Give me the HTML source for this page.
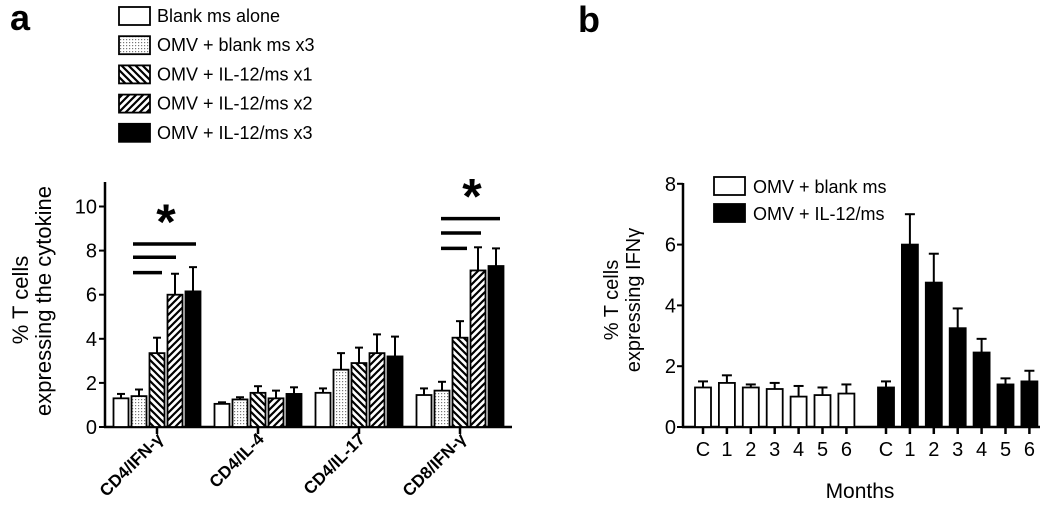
<!DOCTYPE html>
<html><head><meta charset="utf-8"><style>
html,body{margin:0;padding:0;background:#fff;}
svg{display:block;font-family:"Liberation Sans",Arial,sans-serif;}
</style></head><body>
<svg id="c" width="1050" height="529" viewBox="0 0 1050 529" xmlns="http://www.w3.org/2000/svg">
<defs>
<pattern id="dots" width="3" height="3" patternUnits="userSpaceOnUse"><rect width="3" height="3" fill="#fff"/><rect width="1.2" height="1.2" fill="#777"/></pattern>
<pattern id="back" width="7" height="7" patternUnits="userSpaceOnUse"><rect width="7" height="7" fill="#fff"/><path d="M-2,-2 L9,9 M-2,5 L2,9 M5,-2 L9,2" stroke="#000" stroke-width="2.2"/></pattern>
<pattern id="fwd" width="7" height="7" patternUnits="userSpaceOnUse"><rect width="7" height="7" fill="#fff"/><path d="M-2,9 L9,-2 M-2,2 L2,-2 M5,9 L9,5" stroke="#000" stroke-width="2.2"/></pattern>
</defs>
<text x="10" y="30" font-size="36" font-weight="bold">a</text>
<text x="578" y="32" font-size="36" font-weight="bold">b</text>
<g id="ga"></g><g id="gb"></g>
</svg>
<script>
const NS='http://www.w3.org/2000/svg';
function mk(p,t,a,txt){const e=document.createElementNS(NS,t);for(const k in a)e.setAttribute(k,a[k]);if(txt!==undefined)e.textContent=txt;p.appendChild(e);return e;}

// Panel a data
const aCategories=['CD4/IFN-γ','CD4/IL-4','CD4/IL-17','CD8/IFN-γ'];
const aSeries=['Blank ms alone','OMV + blank ms x3','OMV + IL-12/ms x1','OMV + IL-12/ms x2','OMV + IL-12/ms  x3'];
const aValues=[[1.3,1.4,3.35,6.0,6.15],[1.05,1.25,1.55,1.3,1.5],[1.55,2.6,2.9,3.35,3.2],[1.45,1.65,4.05,7.1,7.3]];
const aErrors=[[1.5,1.7,4.05,6.95,7.25],[1.12,1.35,1.85,1.65,1.8],[1.75,3.35,3.6,4.2,4.1],[1.75,2.05,4.8,8.15,8.1]];
const aTicks=[0,2,4,6,8,10];
const aSig=[[7.0,7.7,8.3],[8.1,8.8,9.45]];
// Panel b data
const bCategories=['C','1','2','3','4','5','6'];
const bSeries=['OMV + blank ms','OMV + IL-12/ms'];
const bBlank=[1.3,1.45,1.3,1.25,1.0,1.05,1.1];
const bBlankErr=[1.5,1.7,1.4,1.45,1.35,1.3,1.4];
const bIL12=[1.3,6.0,4.75,3.25,2.45,1.4,1.5];
const bIL12Err=[1.5,7.0,5.7,3.9,2.9,1.6,1.85];
const bTicks=[0,2,4,6,8];

const fills=['#fff','url(#dots)','url(#back)','url(#fwd)','#000'];
const ga=document.getElementById('ga'), gb=document.getElementById('gb');

// ---- Panel a ----
const ay=v=>427-v*22.05;
const ax=i=>157+i*101;
const bw=15, bs=18;
mk(ga,'line',{x1:105,y1:427,x2:105,y2:182,stroke:'#000','stroke-width':2.5,});
mk(ga,'line',{x1:104,y1:427,x2:512,y2:427,stroke:'#000','stroke-width':2.5,});
aTicks.forEach(t=>{
  const l=mk(ga,'line',{x1:99,y1:ay(t),x2:105,y2:ay(t),stroke:'#000','stroke-width':2});
  
  const tx=mk(ga,'text',{x:97,y:ay(t)+7,'font-size':20,'text-anchor':'end'},t);
  
});
aCategories.forEach((c,g)=>{
  const cx=ax(g);
  const tk=mk(ga,'line',{x1:cx,y1:427,x2:cx,y2:434,stroke:'#000','stroke-width':2.5});
  
  const lab=mk(ga,'text',{x:cx+7,y:440,'font-size':17,'font-weight':'bold','text-anchor':'end',transform:`rotate(-45 ${cx+7} 440)`},c);
  
  aValues[g].forEach((v,s)=>{
    const x=cx+(s-2)*bs-bw/2;
    const e=aErrors[g][s];
    const el=mk(ga,'line',{x1:x+bw/2,y1:ay(v),x2:x+bw/2,y2:ay(e),stroke:'#000','stroke-width':2});
    
    const ec=mk(ga,'line',{x1:x+bw/2-4,y1:ay(e),x2:x+bw/2+4,y2:ay(e),stroke:'#000','stroke-width':2});
    
    const r=mk(ga,'rect',{x:x,y:ay(v),width:bw,height:427-ay(v),fill:fills[s],stroke:'#000','stroke-width':1.8});
    
  });
});
// significance
const sigStart=[133,441], sigEnd=[[162,176,196],[467,481,500]], starX=[166,472];
aSig.forEach((arr,k)=>{
  arr.forEach((v,j)=>{
    const l=mk(ga,'line',{x1:sigStart[k],y1:ay(v),x2:sigEnd[k][j],y2:ay(v),stroke:'#000','stroke-width':3.5});
    
  });
  const st=mk(ga,'text',{x:starX[k],y:ay(arr[2])-5,'font-size':50,'font-weight':'bold','text-anchor':'middle'},'*');
  
});
// y title
const yt=mk(ga,'text',{transform:'translate(28 300) rotate(-90)','font-size':22,'text-anchor':'middle'},'% T cells');

const yt2=mk(ga,'text',{transform:'translate(51 301) rotate(-90)','font-size':22,'text-anchor':'middle'},'expressing the cytokine');

// legend
aSeries.forEach((s,i)=>{
  const y=16+i*29.2;
  const r=mk(ga,'rect',{x:119,y:y-9,width:31,height:18,fill:fills[i],stroke:'#000','stroke-width':1.8});
  
  const t=mk(ga,'text',{x:157,y:y+6,'font-size':18},s);
  
});

// ---- Panel b ----
const by=v=>427-v*30.4;
const bx=(grp,i)=>(grp?886:703)+i*23.9;
const bbw=16;
mk(gb,'line',{x1:683,y1:427,x2:683,y2:183,stroke:'#000','stroke-width':2.5,});
mk(gb,'line',{x1:682,y1:427,x2:1040,y2:427,stroke:'#000','stroke-width':2.5,});
bTicks.forEach(t=>{
  const l=mk(gb,'line',{x1:677,y1:by(t),x2:683,y2:by(t),stroke:'#000','stroke-width':2});
  
  const tx=mk(gb,'text',{x:676,y:by(t)+7,'font-size':20,'text-anchor':'end'},t);
  
});
[[bBlank,bBlankErr,'#fff'],[bIL12,bIL12Err,'#000']].forEach((d,grp)=>{
  bCategories.forEach((c,i)=>{
    const cx=bx(grp,i), v=d[0][i], e=d[1][i];
    const tk=mk(gb,'line',{x1:cx,y1:427,x2:cx,y2:434,stroke:'#000','stroke-width':2.5});
    
    const lab=mk(gb,'text',{x:cx,y:456,'font-size':20,'text-anchor':'middle'},c);
    
    const el=mk(gb,'line',{x1:cx,y1:by(v),x2:cx,y2:by(e),stroke:'#000','stroke-width':2});
    
    const ec=mk(gb,'line',{x1:cx-5,y1:by(e),x2:cx+5,y2:by(e),stroke:'#000','stroke-width':2});
    
    const r=mk(gb,'rect',{x:cx-bbw/2,y:by(v),width:bbw,height:427-by(v),fill:d[2],stroke:'#000','stroke-width':1.8});
    
  });
});
const mt=mk(gb,'text',{x:860,y:498,'font-size':21,'text-anchor':'middle'},'Months');

const by1=mk(gb,'text',{transform:'translate(618 300) rotate(-90)','font-size':20,'text-anchor':'middle'},'% T cells');

const by2=mk(gb,'text',{transform:'translate(640 300) rotate(-90)','font-size':20,'text-anchor':'middle'},'expressing IFNγ');

bSeries.forEach((s,i)=>{
  const y=186+i*27;
  const r=mk(gb,'rect',{x:714,y:y-9,width:31,height:18,fill:i?'#000':'#fff',stroke:'#000','stroke-width':1.8});
  
  const t=mk(gb,'text',{x:753,y:y+7,'font-size':18},s);
  
});
</script>
</body></html>
